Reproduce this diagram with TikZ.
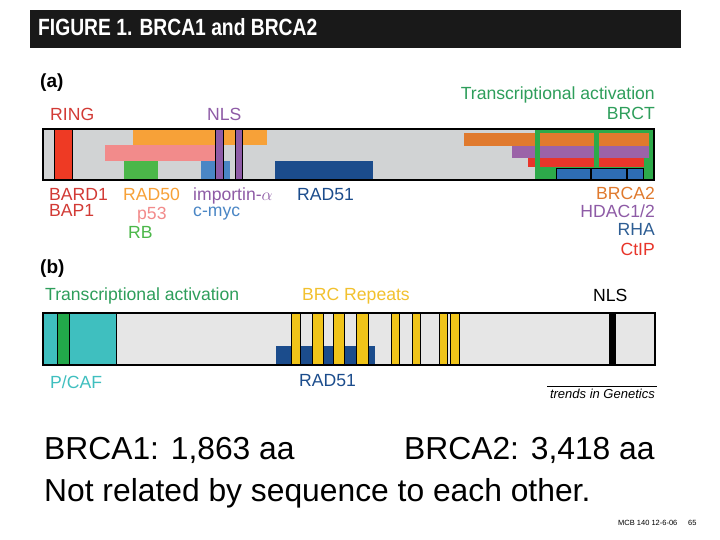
\documentclass[tikz,border=0pt]{standalone}
\usepackage{fontspec}
\setmainfont{Liberation Sans}
\definecolor{graya}{HTML}{D1D3D4}
\definecolor{grayb}{HTML}{E6E6E6}
\definecolor{ringred}{HTML}{EE3A24}
\definecolor{ringlbl}{HTML}{D23A35}
\definecolor{rad50}{HTML}{F7A138}
\definecolor{p53c}{HTML}{F28B8B}
\definecolor{rbgreen}{HTML}{4BB749}
\definecolor{mycblue}{HTML}{4A86C5}
\definecolor{nlspurple}{HTML}{8E5BA6}
\definecolor{rad51}{HTML}{1B4C8C}
\definecolor{brctgreen}{HTML}{2DAA4A}
\definecolor{txgreen}{HTML}{2E9E5B}
\definecolor{brca2c}{HTML}{E07A2E}
\definecolor{hdac}{HTML}{9B63A8}
\definecolor{ctip}{HTML}{E8352A}
\definecolor{rha}{HTML}{2E6DB4}
\definecolor{rhalbl}{HTML}{2E5E94}
\definecolor{pcaf}{HTML}{3FBFBF}
\definecolor{bgreen}{HTML}{22A84A}
\definecolor{brcyel}{HTML}{F0C419}
\definecolor{brclbl}{HTML}{F2C12E}
\tikzset{
  lbl/.style={font=\fontsize{17.6}{20}\selectfont, inner sep=0pt, text depth=0pt, anchor=base west},
  lblr/.style={lbl, anchor=base east},
  panel/.style={font=\fontsize{19}{22}\selectfont\bfseries, inner sep=0pt, anchor=base west},
  big/.style={font=\fontsize{31.8}{36}\selectfont, inner sep=0pt, anchor=base west},
  edgeln/.style={draw=black, line width=1pt},
}
\begin{document}
\begin{tikzpicture}[x=1pt,y=-1pt]
\useasboundingbox (0,0) rectangle (720,540);
\fill[white] (0,0) rectangle (720,540);
% title
\fill[black!90] (30,10) rectangle (681,48);
\node[inner sep=0pt, anchor=base west, text=white, font=\fontsize{23.5}{26}\selectfont\bfseries] (title) at (38,36) {\scalebox{0.82}[1]{FIGURE 1. BRCA1 and BRCA2}};
% panel a
\node[panel] (pa) at (40,88) {(a)};
\fill[graya] (43,129) rectangle (654,180);
\fill[rad50] (133,129) rectangle (267,145);
\fill[p53c] (105,145) rectangle (215,161.5);
\fill[rbgreen] (123.5,161.5) rectangle (157.5,180);
\fill[mycblue] (201,161) rectangle (230,180);
\fill[rad51] (275,161) rectangle (373,180);
\draw[edgeln, fill=ringred] (54,129) rectangle (72.5,180);
\draw[edgeln, fill=nlspurple] (215.5,129) rectangle (223.5,180);
\draw[edgeln, fill=nlspurple] (235.5,129) rectangle (242.5,180);
% right side of a
\fill[brca2c] (463.5,133) rectangle (534.5,146);
\fill[hdac] (512,146) rectangle (534.5,158.5);
\fill[ctip] (527.5,158.5) rectangle (534.5,167.5);
\fill[brctgreen] (534.5,129) rectangle (654,180);
\fill[brca2c] (540,133) rectangle (594,146);
\fill[brca2c] (598.5,133) rectangle (649,146);
\fill[hdac] (540,146) rectangle (594,158.5);
\fill[hdac] (598.5,146) rectangle (648.5,158.5);
\fill[ctip] (540,158.5) rectangle (594,167.5);
\fill[ctip] (598.5,158.5) rectangle (643.5,167.5);
\draw[edgeln, fill=rha] (556,168.5) rectangle (590,180);
\draw[edgeln, fill=rha] (591.5,168.5) rectangle (626,180);
\draw[edgeln, fill=rha] (627.5,168.5) rectangle (643,180);
\draw[line width=1.2pt] (43,129) rectangle (654,180);
% labels a
\node[lbl, text=ringlbl] (ring) at (50,121) {RING};
\node[lbl, text=nlspurple] (nlsa) at (207,121) {NLS};
\node[lblr, text=txgreen] (txa) at (655,99.5) {Transcriptional activation};
\node[lblr, text=txgreen] (brct) at (655,120) {BRCT};
\node[lbl, text=ringlbl] (bard1) at (49,200.5) {BARD1};
\node[lbl, text=ringlbl] (bap1) at (49,216.5) {BAP1};
\node[lbl, text=rad50] (rad50l) at (123,200.5) {RAD50};
\node[lbl, text=p53c] (p53l) at (137,219) {p53};
\node[lbl, text=rbgreen] (rbl) at (128,238) {RB};
\node[lbl, text=nlspurple] (imp) at (193,200.5) {importin-$\alpha$};
\node[lbl, text=mycblue] (myc) at (193,216.5) {c-myc};
\node[lbl, text=rad51] (rad51a) at (297,200.5) {RAD51};
\node[lblr, text=brca2c] (brca2l) at (655,200) {BRCA2};
\node[lblr, text=nlspurple] (hdacl) at (655,218) {HDAC1/2};
\node[lblr, text=rhalbl] (rhal) at (655,236) {RHA};
\node[lblr, text=ctip] (ctipl) at (655,255) {CtIP};
% panel b
\node[panel] (pb) at (40,273) {(b)};
\fill[grayb] (43,313) rectangle (655,365);
\draw[edgeln, fill=pcaf] (43,313) rectangle (116.5,365);
\draw[edgeln, fill=bgreen] (57.5,313) rectangle (69.5,365);
\fill[rad51] (276,346) rectangle (375,365);
\foreach \a/\b in {291.7/300.7, 312.3/323, 333.3/344.3, 356.7/368.3, 391/399.5, 412.5/420.7, 439/447.3, 450/459.3}
  \draw[edgeln, fill=brcyel] (\a,313) rectangle (\b,365);
\fill[black] (609,313) rectangle (615.5,365);
\draw[line width=1.2pt] (43,313) rectangle (655,365);
\node[lbl, text=txgreen] (txb) at (45,300.5) {Transcriptional activation};
\node[lbl, text=brclbl] (brc) at (302,300.5) {BRC Repeats};
\node[lbl, text=black] (nlsb) at (593,301) {NLS};
\node[lbl, text=pcaf] (pcafl) at (50,388) {P/CAF};
\node[lbl, text=rad51] (rad51b) at (299,386.5) {RAD51};
% trends in genetics
\coordinate (tl) at (547,386.5);
\coordinate (tr) at (657,386.5);
\draw[line width=1.5pt] (tl) -- (tr);
\node[inner sep=0pt, anchor=base east, font=\fontsize{13}{15}\selectfont\itshape] (tig) at (655,398.5) {trends in Genetics};
% bottom text
\node[big] (b1) at (44,459) {BRCA1: 1,863 aa};
\node[big] (b2) at (404,459) {BRCA2: 3,418 aa};
\node[big] (nr) at (44,501) {Not related by sequence to each other.};
\node[inner sep=0pt, anchor=base west, font=\fontsize{7.5}{9}\selectfont] (mcb) at (618,525) {MCB 140 12-6-06};
\node[inner sep=0pt, anchor=base west, font=\fontsize{7.5}{9}\selectfont] (pg) at (688,525) {65};
\end{tikzpicture}
\end{document}
